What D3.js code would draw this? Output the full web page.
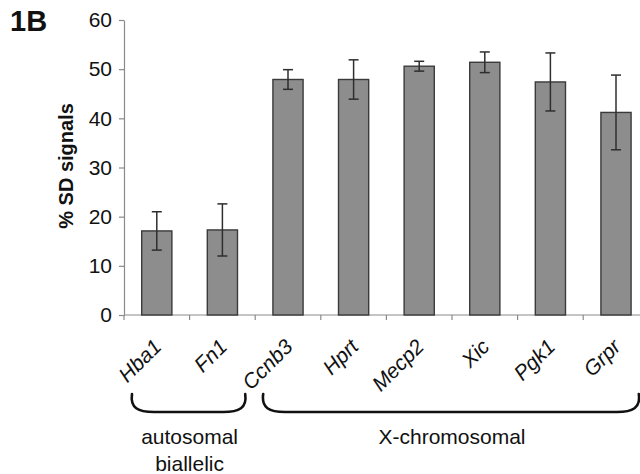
<!DOCTYPE html>
<html>
<head>
<meta charset="utf-8">
<script src="https://cdn.jsdelivr.net/npm/d3@7/dist/d3.min.js"></script>
<style>
  html, body { margin: 0; padding: 0; background: #fff; }
  svg { display: block; }
  text { font-family: "Liberation Sans", Arial, Helvetica, sans-serif; fill: #111; }
</style>
</head>
<body>
<svg id="chart" width="640" height="474"></svg>
<script>
// ---- data ----
const categories = ["Hba1", "Fn1", "Ccnb3", "Hprt", "Mecp2", "Xic", "Pgk1", "Grpr"];
const values = [17.1, 17.3, 47.9, 47.9, 50.6, 51.4, 47.4, 41.2];
const errors = [3.9, 5.3, 2.0, 4.0, 1.0, 2.1, 5.9, 7.6];
const yTicks = [0, 10, 20, 30, 40, 50, 60];
const groupLabels = [["autosomal", "biallelic"], ["X-chromosomal"]];
const groupFirst = ["Hba1", "Ccnb3"];
const groupLast = ["Fn1", "Grpr"];
const panelLabel = "1B";
const yTitle = "% SD signals";

// ---- layout ----
const svg = d3.select("#chart");
const x0 = 124, stepPx = 65.6;
const x = d3.scaleBand().domain(categories)
  .range([x0, x0 + categories.length * stepPx])
  .paddingInner(0.54).paddingOuter(0.27);
const y = d3.scaleLinear().domain([0, 60]).range([315, 20]);
const step = x.step(), bw = x.bandwidth();
const gap = (step - bw) / 2;

// panel label
svg.append("text").attr("x", 10).attr("y", 31)
  .attr("font-size", 29).attr("font-weight", "bold").text(panelLabel);

// y title
svg.append("text").attr("transform", "translate(73,166) rotate(-90)")
  .attr("text-anchor", "middle").attr("font-size", 20).attr("font-weight", "bold")
  .text(yTitle);

// y axis
const yAxis = d3.axisLeft(y).tickValues(yTicks).tickSize(5).tickSizeOuter(0).tickPadding(7);
const gy = svg.append("g").attr("transform", `translate(${x0},0)`).call(yAxis);
gy.select(".domain").attr("stroke", "#8a8a8a").attr("stroke-width", 1.2);
gy.selectAll(".tick line").attr("stroke", "#8a8a8a").attr("stroke-width", 1.2);
gy.selectAll(".tick text").attr("font-size", 21).attr("fill", "#111")
  .style("font-family", "'Liberation Sans', Arial, sans-serif");

// x axis line + boundary ticks
const bounds = categories.map(c => x(c) - gap).concat([x(categories[categories.length - 1]) + bw + gap]);
svg.append("line").attr("x1", x0).attr("x2", bounds[bounds.length - 1])
  .attr("y1", y(0)).attr("y2", y(0)).attr("stroke", "#8a8a8a").attr("stroke-width", 1.2);
svg.selectAll(".xtick").data(bounds).enter().append("line")
  .attr("x1", d => d).attr("x2", d => d).attr("y1", y(0)).attr("y2", y(0) + 5)
  .attr("stroke", "#8a8a8a").attr("stroke-width", 1.2);

// bars
svg.selectAll(".bar").data(categories).enter().append("rect")
  .attr("x", d => x(d)).attr("width", bw)
  .attr("y", (d, i) => y(values[i])).attr("height", (d, i) => y(0) - y(values[i]))
  .attr("fill", "#8d8d8d").attr("stroke", "#3a3a3a").attr("stroke-width", 1.4);

// error bars
const eb = svg.selectAll(".eb").data(categories).enter().append("g")
  .attr("stroke", "#2e2e2e").attr("stroke-width", 1.5);
eb.append("line")
  .attr("x1", d => x(d) + bw / 2).attr("x2", d => x(d) + bw / 2)
  .attr("y1", (d, i) => y(values[i] + errors[i])).attr("y2", (d, i) => y(values[i] - errors[i]));
eb.append("line")
  .attr("x1", d => x(d) + bw / 2 - 5).attr("x2", d => x(d) + bw / 2 + 5)
  .attr("y1", (d, i) => y(values[i] + errors[i])).attr("y2", (d, i) => y(values[i] + errors[i]));
eb.append("line")
  .attr("x1", d => x(d) + bw / 2 - 5).attr("x2", d => x(d) + bw / 2 + 5)
  .attr("y1", (d, i) => y(values[i] - errors[i])).attr("y2", (d, i) => y(values[i] - errors[i]));

// category labels (italic, rotated)
svg.selectAll(".xl").data(categories).enter().append("text")
  .attr("transform", d => `translate(${x(d) + bw / 2 + 6},${y(0) + 33}) rotate(-45)`)
  .attr("text-anchor", "end").attr("font-size", 21).attr("font-style", "italic")
  .text(d => d);

// group brackets
const bTop = 394, bBot = 412, r = 16;
groupFirst.forEach((f, gi) => {
  const l = x(f) - gap + 8;
  const rr = x(groupLast[gi]) + bw + gap - 10;
  const p = d3.path();
  p.moveTo(l, bTop);
  p.bezierCurveTo(l - 2, bBot - 4, l + 6, bBot, l + r + 6, bBot);
  p.lineTo(rr - r - 6, bBot);
  p.bezierCurveTo(rr - 6, bBot, rr + 2, bBot - 4, rr, bTop);
  svg.append("path").attr("d", p.toString()).attr("fill", "none")
    .attr("stroke", "#111").attr("stroke-width", 2.6).attr("stroke-linecap", "round");
  const cx = (x(f) - gap + x(groupLast[gi]) + bw + gap) / 2;
  groupLabels[gi].forEach((t, li) => {
    svg.append("text").attr("x", cx).attr("y", 444 + li * 27)
      .attr("text-anchor", "middle").attr("font-size", 21).text(t);
  });
});
</script>
</body>
</html>
